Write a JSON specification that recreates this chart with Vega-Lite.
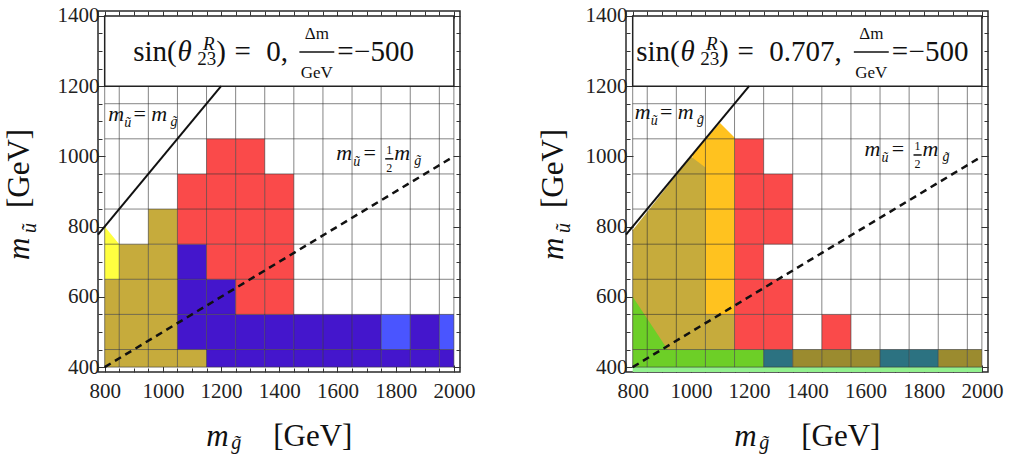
{
"$schema": "https://vega.github.io/schema/vega-lite/v6.json",
"background": "white",
"padding": {"left": 3, "top": 4, "right": 5, "bottom": 5},
"spacing": 60,
"config": {
 "font": "serif",
 "view": {"stroke": "#2a2a2a", "strokeWidth": 1.5},
 "axis": {"labelFont": "serif", "labelFontSize": 21, "labelColor": "#222", "tickColor": "#333", "tickWidth": 1, "domain": false, "grid": false},
 "text": {"font": "Liberation Serif", "color": "#111"}
},
"datasets": {
 "cells": [
  {"p":"L","x1":800,"x2":850,"y1":400,"y2":450,"c":"olive"},
  {"p":"L","x1":800,"x2":850,"y1":450,"y2":550,"c":"olive"},
  {"p":"L","x1":800,"x2":850,"y1":550,"y2":650,"c":"olive"},
  {"p":"L","x1":850,"x2":950,"y1":400,"y2":450,"c":"olive"},
  {"p":"L","x1":850,"x2":950,"y1":450,"y2":550,"c":"olive"},
  {"p":"L","x1":850,"x2":950,"y1":550,"y2":650,"c":"olive"},
  {"p":"L","x1":850,"x2":950,"y1":650,"y2":750,"c":"olive"},
  {"p":"L","x1":950,"x2":1050,"y1":400,"y2":450,"c":"olive"},
  {"p":"L","x1":950,"x2":1050,"y1":450,"y2":550,"c":"olive"},
  {"p":"L","x1":950,"x2":1050,"y1":550,"y2":650,"c":"olive"},
  {"p":"L","x1":950,"x2":1050,"y1":650,"y2":750,"c":"olive"},
  {"p":"L","x1":950,"x2":1050,"y1":750,"y2":850,"c":"olive"},
  {"p":"L","x1":1050,"x2":1150,"y1":400,"y2":450,"c":"olive"},
  {"p":"L","x1":1050,"x2":1150,"y1":450,"y2":550,"c":"blue"},
  {"p":"L","x1":1050,"x2":1150,"y1":550,"y2":650,"c":"blue"},
  {"p":"L","x1":1050,"x2":1150,"y1":650,"y2":750,"c":"blue"},
  {"p":"L","x1":1050,"x2":1150,"y1":750,"y2":850,"c":"red"},
  {"p":"L","x1":1050,"x2":1150,"y1":850,"y2":950,"c":"red"},
  {"p":"L","x1":1150,"x2":1250,"y1":400,"y2":450,"c":"blue"},
  {"p":"L","x1":1150,"x2":1250,"y1":450,"y2":550,"c":"blue"},
  {"p":"L","x1":1150,"x2":1250,"y1":550,"y2":650,"c":"blue"},
  {"p":"L","x1":1150,"x2":1250,"y1":650,"y2":750,"c":"red"},
  {"p":"L","x1":1150,"x2":1250,"y1":750,"y2":850,"c":"red"},
  {"p":"L","x1":1150,"x2":1250,"y1":850,"y2":950,"c":"red"},
  {"p":"L","x1":1150,"x2":1250,"y1":950,"y2":1050,"c":"red"},
  {"p":"L","x1":1250,"x2":1350,"y1":400,"y2":450,"c":"blue"},
  {"p":"L","x1":1250,"x2":1350,"y1":450,"y2":550,"c":"blue"},
  {"p":"L","x1":1250,"x2":1350,"y1":550,"y2":650,"c":"red"},
  {"p":"L","x1":1250,"x2":1350,"y1":650,"y2":750,"c":"red"},
  {"p":"L","x1":1250,"x2":1350,"y1":750,"y2":850,"c":"red"},
  {"p":"L","x1":1250,"x2":1350,"y1":850,"y2":950,"c":"red"},
  {"p":"L","x1":1250,"x2":1350,"y1":950,"y2":1050,"c":"red"},
  {"p":"L","x1":1350,"x2":1450,"y1":400,"y2":450,"c":"blue"},
  {"p":"L","x1":1350,"x2":1450,"y1":450,"y2":550,"c":"blue"},
  {"p":"L","x1":1350,"x2":1450,"y1":550,"y2":650,"c":"red"},
  {"p":"L","x1":1350,"x2":1450,"y1":650,"y2":750,"c":"red"},
  {"p":"L","x1":1350,"x2":1450,"y1":750,"y2":850,"c":"red"},
  {"p":"L","x1":1350,"x2":1450,"y1":850,"y2":950,"c":"red"},
  {"p":"L","x1":1450,"x2":1550,"y1":400,"y2":450,"c":"blue"},
  {"p":"L","x1":1450,"x2":1550,"y1":450,"y2":550,"c":"blue"},
  {"p":"L","x1":1550,"x2":1650,"y1":400,"y2":450,"c":"blue"},
  {"p":"L","x1":1550,"x2":1650,"y1":450,"y2":550,"c":"blue"},
  {"p":"L","x1":1650,"x2":1750,"y1":400,"y2":450,"c":"blue"},
  {"p":"L","x1":1650,"x2":1750,"y1":450,"y2":550,"c":"blue"},
  {"p":"L","x1":1750,"x2":1850,"y1":400,"y2":450,"c":"blue"},
  {"p":"L","x1":1750,"x2":1850,"y1":450,"y2":550,"c":"lightblue"},
  {"p":"L","x1":1850,"x2":1950,"y1":400,"y2":450,"c":"blue"},
  {"p":"L","x1":1850,"x2":1950,"y1":450,"y2":550,"c":"blue"},
  {"p":"L","x1":1950,"x2":2000,"y1":400,"y2":450,"c":"blue"},
  {"p":"L","x1":1950,"x2":2000,"y1":450,"y2":550,"c":"lightblue"},
  {"p":"R","x1":800,"x2":2000,"y1":386,"y2":400,"c":"lightgreen"},
  {"p":"R","x1":800,"x2":850,"y1":400,"y2":450,"c":"green"},
  {"p":"R","x1":850,"x2":950,"y1":400,"y2":450,"c":"green"},
  {"p":"R","x1":950,"x2":1050,"y1":400,"y2":450,"c":"green"},
  {"p":"R","x1":1050,"x2":1150,"y1":400,"y2":450,"c":"green"},
  {"p":"R","x1":1050,"x2":1150,"y1":450,"y2":550,"c":"olive"},
  {"p":"R","x1":1150,"x2":1250,"y1":400,"y2":450,"c":"green"},
  {"p":"R","x1":1150,"x2":1250,"y1":450,"y2":550,"c":"red"},
  {"p":"R","x1":1150,"x2":1250,"y1":550,"y2":650,"c":"red"},
  {"p":"R","x1":1150,"x2":1250,"y1":650,"y2":750,"c":"red"},
  {"p":"R","x1":1150,"x2":1250,"y1":750,"y2":850,"c":"red"},
  {"p":"R","x1":1150,"x2":1250,"y1":850,"y2":950,"c":"red"},
  {"p":"R","x1":1150,"x2":1250,"y1":950,"y2":1050,"c":"red"},
  {"p":"R","x1":1250,"x2":1350,"y1":400,"y2":450,"c":"teal"},
  {"p":"R","x1":1250,"x2":1350,"y1":450,"y2":550,"c":"red"},
  {"p":"R","x1":1250,"x2":1350,"y1":550,"y2":650,"c":"red"},
  {"p":"R","x1":1250,"x2":1350,"y1":750,"y2":850,"c":"red"},
  {"p":"R","x1":1250,"x2":1350,"y1":850,"y2":950,"c":"red"},
  {"p":"R","x1":1350,"x2":1450,"y1":400,"y2":450,"c":"darkolive"},
  {"p":"R","x1":1450,"x2":1550,"y1":400,"y2":450,"c":"darkolive"},
  {"p":"R","x1":1450,"x2":1550,"y1":450,"y2":550,"c":"red"},
  {"p":"R","x1":1550,"x2":1650,"y1":400,"y2":450,"c":"darkolive"},
  {"p":"R","x1":1650,"x2":1750,"y1":400,"y2":450,"c":"teal"},
  {"p":"R","x1":1750,"x2":1850,"y1":400,"y2":450,"c":"teal"},
  {"p":"R","x1":1850,"x2":1950,"y1":400,"y2":450,"c":"darkolive"},
  {"p":"R","x1":1950,"x2":2000,"y1":400,"y2":450,"c":"darkolive"}
 ],
 "areas": [
  {"p":"L","g":"Ly","c":"yellow","x":800,"lo":650,"hi":800},
  {"p":"L","g":"Ly","c":"yellow","x":850,"lo":650,"hi":750},
  {"p":"R","g":"Ro","c":"orange","x":1005,"lo":550,"hi":1005},
  {"p":"R","g":"Ro","c":"orange","x":1100,"lo":550,"hi":1095},
  {"p":"R","g":"Ro","c":"orange","x":1150,"lo":550,"hi":1054},
  {"p":"R","g":"Rol","c":"olive","x":800,"lo":450,"hi":790},
  {"p":"R","g":"Rol","c":"olive","x":1000,"lo":450,"hi":1000},
  {"p":"R","g":"Rol","c":"olive","x":1050,"lo":450,"hi":968},
  {"p":"R","g":"Rg","c":"green","x":800,"lo":450,"hi":600},
  {"p":"R","g":"Rg","c":"green","x":920,"lo":450,"hi":450}
 ],
 "grid": [
  {"o":"v","v":800,"lo":400,"hi":1200},{"o":"v","v":850,"lo":400,"hi":1200},{"o":"v","v":950,"lo":400,"hi":1200},
  {"o":"v","v":1050,"lo":400,"hi":1200},{"o":"v","v":1150,"lo":400,"hi":1200},{"o":"v","v":1250,"lo":400,"hi":1200},
  {"o":"v","v":1350,"lo":400,"hi":1200},{"o":"v","v":1450,"lo":400,"hi":1200},{"o":"v","v":1550,"lo":400,"hi":1200},
  {"o":"v","v":1650,"lo":400,"hi":1200},{"o":"v","v":1750,"lo":400,"hi":1200},{"o":"v","v":1850,"lo":400,"hi":1200},
  {"o":"v","v":1950,"lo":400,"hi":1200},{"o":"v","v":2000,"lo":400,"hi":1200},
  {"o":"h","v":400,"lo":800,"hi":2000},{"o":"h","v":450,"lo":800,"hi":2000},{"o":"h","v":550,"lo":800,"hi":2000},
  {"o":"h","v":650,"lo":800,"hi":2000},{"o":"h","v":750,"lo":800,"hi":2000},{"o":"h","v":850,"lo":800,"hi":2000},
  {"o":"h","v":950,"lo":800,"hi":2000},{"o":"h","v":1050,"lo":800,"hi":2000},{"o":"h","v":1150,"lo":800,"hi":2000}
 ],
 "box": [{"x1":800,"x2":2000,"y1":1200,"y2":1400}],
 "lines": [
  {"g":"eq","x":777,"y":777},{"g":"eq","x":1200,"y":1200},
  {"g":"half","x":800,"y":400},{"g":"half","x":2000,"y":1000}
 ],
 "bars": [
  {"p":"L","x1":1469,"x2":1589,"y":1297},
  {"p":"L","x1":1764,"x2":1792,"y":993},
  {"p":"R","x1":1560,"x2":1680,"y":1297},
  {"p":"R","x1":1765,"x2":1793,"y":1004}
 ],
 "txt": [
  {"p":"L","k":"main","t":"sin(","x":898,"y":1272},
  {"p":"L","k":"mainI","t":"θ","x":1050,"y":1272},
  {"p":"L","k":"sup","t":"R","x":1138,"y":1304},
  {"p":"L","k":"sub","t":"23","x":1118,"y":1259},
  {"p":"L","k":"main","t":")","x":1183,"y":1272},
  {"p":"L","k":"main","t":"=","x":1246,"y":1272},
  {"p":"L","k":"main","t":"0,","x":1355,"y":1272},
  {"p":"L","k":"fracC","t":"Δm","x":1529,"y":1334},
  {"p":"L","k":"fracC","t":"GeV","x":1529,"y":1223},
  {"p":"L","k":"main","t":"=","x":1599,"y":1272},
  {"p":"L","k":"main","t":"−500","x":1657,"y":1272},
  {"p":"L","k":"lab","t":"m","x":812,"y":1101},
  {"p":"L","k":"labS","t":"ũ","x":867,"y":1084},
  {"p":"L","k":"labN","t":"=","x":899,"y":1101},
  {"p":"L","k":"lab","t":"m","x":960,"y":1101},
  {"p":"L","k":"labS","t":"g̃","x":1026,"y":1086},
  {"p":"L","k":"lab","t":"m","x":1596,"y":990},
  {"p":"L","k":"labS","t":"ũ","x":1654,"y":973},
  {"p":"L","k":"labN","t":"=","x":1689,"y":990},
  {"p":"L","k":"frac2C","t":"1","x":1778,"y":1007},
  {"p":"L","k":"frac2C","t":"2","x":1778,"y":955},
  {"p":"L","k":"lab","t":"m","x":1795,"y":990},
  {"p":"L","k":"labS","t":"g̃","x":1864,"y":975},
  {"p":"L","k":"tit","t":"m","x":1149,"y":175},
  {"p":"L","k":"titS","t":"g̃","x":1235,"y":166},
  {"p":"L","k":"titN","t":"[GeV]","x":1379,"y":175},
  {"p":"L","k":"ytit","t":"m","x":541,"y":705},
  {"p":"L","k":"ytitS","t":"ũ","x":565,"y":782},
  {"p":"L","k":"ytitN","t":"[GeV]","x":541,"y":853},
  {"p":"R","k":"main","t":"sin(","x":812,"y":1272},
  {"p":"R","k":"mainI","t":"θ","x":964,"y":1272},
  {"p":"R","k":"sup","t":"R","x":1052,"y":1304},
  {"p":"R","k":"sub","t":"23","x":1032,"y":1259},
  {"p":"R","k":"main","t":")","x":1097,"y":1272},
  {"p":"R","k":"main","t":"=","x":1160,"y":1272},
  {"p":"R","k":"main","t":"0.707,","x":1269,"y":1272},
  {"p":"R","k":"fracC","t":"Δm","x":1620,"y":1334},
  {"p":"R","k":"fracC","t":"GeV","x":1620,"y":1223},
  {"p":"R","k":"main","t":"=","x":1690,"y":1272},
  {"p":"R","k":"main","t":"−500","x":1748,"y":1272},
  {"p":"R","k":"lab","t":"m","x":807,"y":1106},
  {"p":"R","k":"labS","t":"ũ","x":862,"y":1089},
  {"p":"R","k":"labN","t":"=","x":894,"y":1106},
  {"p":"R","k":"lab","t":"m","x":955,"y":1106},
  {"p":"R","k":"labS","t":"g̃","x":1021,"y":1091},
  {"p":"R","k":"lab","t":"m","x":1597,"y":1001},
  {"p":"R","k":"labS","t":"ũ","x":1655,"y":984},
  {"p":"R","k":"labN","t":"=","x":1690,"y":1001},
  {"p":"R","k":"frac2C","t":"1","x":1779,"y":1018},
  {"p":"R","k":"frac2C","t":"2","x":1779,"y":966},
  {"p":"R","k":"lab","t":"m","x":1796,"y":1001},
  {"p":"R","k":"labS","t":"g̃","x":1865,"y":986},
  {"p":"R","k":"tit","t":"m","x":1149,"y":175},
  {"p":"R","k":"titS","t":"g̃","x":1235,"y":166},
  {"p":"R","k":"titN","t":"[GeV]","x":1379,"y":175},
  {"p":"R","k":"ytit","t":"m","x":559,"y":705},
  {"p":"R","k":"ytitS","t":"ũ","x":583,"y":782},
  {"p":"R","k":"ytitN","t":"[GeV]","x":559,"y":853}
 ]
},
"hconcat": [
 {
  "width": 362, "height": 361,
  "resolve": {"axis": {"x": "independent", "y": "independent"}},
  "layer": [
   {"data": {"name": "cells"}, "transform": [{"filter": "datum.p === 'L'"}],
    "mark": {"type": "rect", "opacity": 1},
    "encoding": {
     "x": {"field": "x1", "type": "quantitative", "scale": {"domain": [777, 2021], "nice": false, "zero": false},
       "axis": {"orient": "bottom", "values": [800,850,900,950,1000,1050,1100,1150,1200,1250,1300,1350,1400,1450,1500,1550,1600,1650,1700,1750,1800,1850,1900,1950,2000], "format": "d", "labelExpr": "datum.value % 200 === 0 ? datum.label : ''", "labelFont": "serif", "labelFontSize": 21, "labelColor": "#222", "tickSize": {"condition": {"test": "datum.value % 200 === 0", "value": -7}, "value": -4}, "labelPadding": 15, "title": null}},
     "x2": {"field": "x2"},
     "y": {"field": "y1", "type": "quantitative", "scale": {"domain": [386, 1414], "nice": false, "zero": false},
       "axis": {"orient": "left", "values": [400,450,500,550,600,650,700,750,800,850,900,950,1000,1050,1100,1150,1200,1250,1300,1350,1400], "format": "d", "labelExpr": "datum.value % 200 === 0 ? datum.label : ''", "labelFont": "serif", "labelFontSize": 21, "labelColor": "#222", "tickSize": {"condition": {"test": "datum.value % 200 === 0", "value": -7}, "value": -4}, "labelPadding": 6, "title": null}},
     "y2": {"field": "y2"},
     "color": {"field": "c", "type": "nominal", "legend": null, "scale": {"domain": ["olive","yellow","red","blue","lightblue","green","lightgreen","orange","teal","darkolive"], "range": ["#C6AB3C","#FFFF40","#FA4A4A","#4416CC","#4A55FF","#6DCF27","#92F08E","#FFC21F","#2C7281","#9B8B2F"]}}
    }},
   {"data": {"name": "areas"}, "transform": [{"filter": "datum.p === 'L'"}],
    "mark": {"type": "area", "opacity": 1},
    "encoding": {
     "x": {"field": "x", "type": "quantitative", "scale": {"domain": [777, 2021], "nice": false, "zero": false}, "axis": null},
     "y": {"field": "lo", "type": "quantitative", "scale": {"domain": [386, 1414], "nice": false, "zero": false}, "axis": null},
     "y2": {"field": "hi"},
     "detail": {"field": "g"},
     "color": {"field": "c", "type": "nominal", "legend": null, "scale": {"domain": ["olive","yellow","red","blue","lightblue","green","lightgreen","orange","teal","darkolive"], "range": ["#C6AB3C","#FFFF40","#FA4A4A","#4416CC","#4A55FF","#6DCF27","#92F08E","#FFC21F","#2C7281","#9B8B2F"]}}
    }},
   {"data": {"name": "grid"}, "transform": [{"filter": "datum.o === 'v'"}],
    "mark": {"type": "rule", "color": "#333", "opacity": 0.6, "strokeWidth": 1},
    "encoding": {
     "x": {"field": "v", "type": "quantitative", "scale": {"domain": [777, 2021], "nice": false, "zero": false}, "axis": null},
     "y": {"field": "lo", "type": "quantitative", "scale": {"domain": [386, 1414], "nice": false, "zero": false}, "axis": null},
     "y2": {"field": "hi"}
    }},
   {"data": {"name": "grid"}, "transform": [{"filter": "datum.o === 'h'"}],
    "mark": {"type": "rule", "color": "#333", "opacity": 0.6, "strokeWidth": 1},
    "encoding": {
     "y": {"field": "v", "type": "quantitative", "scale": {"domain": [386, 1414], "nice": false, "zero": false}, "axis": null},
     "x": {"field": "lo", "type": "quantitative", "scale": {"domain": [777, 2021], "nice": false, "zero": false}, "axis": null},
     "x2": {"field": "hi"}
    }},
   {"data": {"name": "box"},
    "mark": {"type": "rect", "fill": "white", "stroke": "#222", "strokeWidth": 1.5},
    "encoding": {
     "x": {"field": "x1", "type": "quantitative", "scale": {"domain": [777, 2021], "nice": false, "zero": false}, "axis": null},
     "x2": {"field": "x2"},
     "y": {"field": "y1", "type": "quantitative", "scale": {"domain": [386, 1414], "nice": false, "zero": false}, "axis": null},
     "y2": {"field": "y2"}
    }},
   {"data": {"name": "lines"}, "transform": [{"filter": "datum.g === 'eq'"}],
    "mark": {"type": "line", "color": "#111", "strokeWidth": 2},
    "encoding": {
     "x": {"field": "x", "type": "quantitative", "scale": {"domain": [777, 2021], "nice": false, "zero": false},
       "axis": {"orient": "top", "values": [800,850,900,950,1000,1050,1100,1150,1200,1250,1300,1350,1400,1450,1500,1550,1600,1650,1700,1750,1800,1850,1900,1950,2000], "labels": false, "tickSize": {"condition": {"test": "datum.value % 200 === 0", "value": -7}, "value": -4}, "title": null}},
     "y": {"field": "y", "type": "quantitative", "scale": {"domain": [386, 1414], "nice": false, "zero": false},
       "axis": {"orient": "right", "values": [400,450,500,550,600,650,700,750,800,850,900,950,1000,1050,1100,1150,1200,1250,1300,1350,1400], "labels": false, "tickSize": {"condition": {"test": "datum.value % 200 === 0", "value": -7}, "value": -4}, "title": null}}
    }},
   {"data": {"name": "lines"}, "transform": [{"filter": "datum.g === 'half'"}],
    "mark": {"type": "line", "color": "#111", "strokeWidth": 2.5, "strokeDash": [7, 5]},
    "encoding": {
     "x": {"field": "x", "type": "quantitative", "scale": {"domain": [777, 2021], "nice": false, "zero": false}, "axis": null},
     "y": {"field": "y", "type": "quantitative", "scale": {"domain": [386, 1414], "nice": false, "zero": false}, "axis": null}
    }},
   {"data": {"name": "bars"}, "transform": [{"filter": "datum.p === 'L'"}],
    "mark": {"type": "rule", "color": "#111", "strokeWidth": 1.5},
    "encoding": {
     "x": {"field": "x1", "type": "quantitative", "scale": {"domain": [777, 2021], "nice": false, "zero": false}, "axis": null},
     "x2": {"field": "x2"},
     "y": {"field": "y", "type": "quantitative", "scale": {"domain": [386, 1414], "nice": false, "zero": false}, "axis": null}
    }},
   {"data": {"name": "txt"}, "transform": [{"filter": "datum.p === 'L' && datum.k === 'main'"}], "mark": {"type": "text", "fontSize": 29, "align": "left", "baseline": "alphabetic"}, "encoding": {"x": {"field": "x", "type": "quantitative", "scale": {"domain": [777, 2021], "nice": false, "zero": false}, "axis": null}, "y": {"field": "y", "type": "quantitative", "scale": {"domain": [386, 1414], "nice": false, "zero": false}, "axis": null}, "text": {"field": "t"}}},
   {"data": {"name": "txt"}, "transform": [{"filter": "datum.p === 'L' && datum.k === 'mainI'"}], "mark": {"type": "text", "fontSize": 29, "fontStyle": "italic", "align": "left", "baseline": "alphabetic"}, "encoding": {"x": {"field": "x", "type": "quantitative", "scale": {"domain": [777, 2021], "nice": false, "zero": false}, "axis": null}, "y": {"field": "y", "type": "quantitative", "scale": {"domain": [386, 1414], "nice": false, "zero": false}, "axis": null}, "text": {"field": "t"}}},
   {"data": {"name": "txt"}, "transform": [{"filter": "datum.p === 'L' && datum.k === 'sup'"}], "mark": {"type": "text", "fontSize": 19, "fontStyle": "italic", "align": "left", "baseline": "alphabetic"}, "encoding": {"x": {"field": "x", "type": "quantitative", "scale": {"domain": [777, 2021], "nice": false, "zero": false}, "axis": null}, "y": {"field": "y", "type": "quantitative", "scale": {"domain": [386, 1414], "nice": false, "zero": false}, "axis": null}, "text": {"field": "t"}}},
   {"data": {"name": "txt"}, "transform": [{"filter": "datum.p === 'L' && datum.k === 'sub'"}], "mark": {"type": "text", "fontSize": 19, "align": "left", "baseline": "alphabetic"}, "encoding": {"x": {"field": "x", "type": "quantitative", "scale": {"domain": [777, 2021], "nice": false, "zero": false}, "axis": null}, "y": {"field": "y", "type": "quantitative", "scale": {"domain": [386, 1414], "nice": false, "zero": false}, "axis": null}, "text": {"field": "t"}}},
   {"data": {"name": "txt"}, "transform": [{"filter": "datum.p === 'L' && datum.k === 'fracC'"}], "mark": {"type": "text", "fontSize": 17, "align": "center", "baseline": "alphabetic"}, "encoding": {"x": {"field": "x", "type": "quantitative", "scale": {"domain": [777, 2021], "nice": false, "zero": false}, "axis": null}, "y": {"field": "y", "type": "quantitative", "scale": {"domain": [386, 1414], "nice": false, "zero": false}, "axis": null}, "text": {"field": "t"}}},
   {"data": {"name": "txt"}, "transform": [{"filter": "datum.p === 'L' && datum.k === 'frac2C'"}], "mark": {"type": "text", "fontSize": 12, "align": "center", "baseline": "alphabetic"}, "encoding": {"x": {"field": "x", "type": "quantitative", "scale": {"domain": [777, 2021], "nice": false, "zero": false}, "axis": null}, "y": {"field": "y", "type": "quantitative", "scale": {"domain": [386, 1414], "nice": false, "zero": false}, "axis": null}, "text": {"field": "t"}}},
   {"data": {"name": "txt"}, "transform": [{"filter": "datum.p === 'L' && datum.k === 'lab'"}], "mark": {"type": "text", "fontSize": 22, "fontStyle": "italic", "align": "left", "baseline": "alphabetic"}, "encoding": {"x": {"field": "x", "type": "quantitative", "scale": {"domain": [777, 2021], "nice": false, "zero": false}, "axis": null}, "y": {"field": "y", "type": "quantitative", "scale": {"domain": [386, 1414], "nice": false, "zero": false}, "axis": null}, "text": {"field": "t"}}},
   {"data": {"name": "txt"}, "transform": [{"filter": "datum.p === 'L' && datum.k === 'labN'"}], "mark": {"type": "text", "fontSize": 22, "align": "left", "baseline": "alphabetic"}, "encoding": {"x": {"field": "x", "type": "quantitative", "scale": {"domain": [777, 2021], "nice": false, "zero": false}, "axis": null}, "y": {"field": "y", "type": "quantitative", "scale": {"domain": [386, 1414], "nice": false, "zero": false}, "axis": null}, "text": {"field": "t"}}},
   {"data": {"name": "txt"}, "transform": [{"filter": "datum.p === 'L' && datum.k === 'labS'"}], "mark": {"type": "text", "fontSize": 14, "fontStyle": "italic", "align": "left", "baseline": "alphabetic"}, "encoding": {"x": {"field": "x", "type": "quantitative", "scale": {"domain": [777, 2021], "nice": false, "zero": false}, "axis": null}, "y": {"field": "y", "type": "quantitative", "scale": {"domain": [386, 1414], "nice": false, "zero": false}, "axis": null}, "text": {"field": "t"}}},
   {"data": {"name": "txt"}, "transform": [{"filter": "datum.p === 'L' && datum.k === 'tit'"}], "mark": {"type": "text", "fontSize": 31, "fontStyle": "italic", "align": "left", "baseline": "alphabetic"}, "encoding": {"x": {"field": "x", "type": "quantitative", "scale": {"domain": [777, 2021], "nice": false, "zero": false}, "axis": null}, "y": {"field": "y", "type": "quantitative", "scale": {"domain": [386, 1414], "nice": false, "zero": false}, "axis": null}, "text": {"field": "t"}}},
   {"data": {"name": "txt"}, "transform": [{"filter": "datum.p === 'L' && datum.k === 'titN'"}], "mark": {"type": "text", "fontSize": 31, "align": "left", "baseline": "alphabetic"}, "encoding": {"x": {"field": "x", "type": "quantitative", "scale": {"domain": [777, 2021], "nice": false, "zero": false}, "axis": null}, "y": {"field": "y", "type": "quantitative", "scale": {"domain": [386, 1414], "nice": false, "zero": false}, "axis": null}, "text": {"field": "t"}}},
   {"data": {"name": "txt"}, "transform": [{"filter": "datum.p === 'L' && datum.k === 'titS'"}], "mark": {"type": "text", "fontSize": 20, "fontStyle": "italic", "align": "left", "baseline": "alphabetic"}, "encoding": {"x": {"field": "x", "type": "quantitative", "scale": {"domain": [777, 2021], "nice": false, "zero": false}, "axis": null}, "y": {"field": "y", "type": "quantitative", "scale": {"domain": [386, 1414], "nice": false, "zero": false}, "axis": null}, "text": {"field": "t"}}},
   {"data": {"name": "txt"}, "transform": [{"filter": "datum.p === 'L' && datum.k === 'ytit'"}], "mark": {"type": "text", "fontSize": 31, "fontStyle": "italic", "align": "left", "baseline": "alphabetic", "angle": 270}, "encoding": {"x": {"field": "x", "type": "quantitative", "scale": {"domain": [777, 2021], "nice": false, "zero": false}, "axis": null}, "y": {"field": "y", "type": "quantitative", "scale": {"domain": [386, 1414], "nice": false, "zero": false}, "axis": null}, "text": {"field": "t"}}},
   {"data": {"name": "txt"}, "transform": [{"filter": "datum.p === 'L' && datum.k === 'ytitN'"}], "mark": {"type": "text", "fontSize": 31, "align": "left", "baseline": "alphabetic", "angle": 270}, "encoding": {"x": {"field": "x", "type": "quantitative", "scale": {"domain": [777, 2021], "nice": false, "zero": false}, "axis": null}, "y": {"field": "y", "type": "quantitative", "scale": {"domain": [386, 1414], "nice": false, "zero": false}, "axis": null}, "text": {"field": "t"}}},
   {"data": {"name": "txt"}, "transform": [{"filter": "datum.p === 'L' && datum.k === 'ytitS'"}], "mark": {"type": "text", "fontSize": 20, "fontStyle": "italic", "align": "left", "baseline": "alphabetic", "angle": 270}, "encoding": {"x": {"field": "x", "type": "quantitative", "scale": {"domain": [777, 2021], "nice": false, "zero": false}, "axis": null}, "y": {"field": "y", "type": "quantitative", "scale": {"domain": [386, 1414], "nice": false, "zero": false}, "axis": null}, "text": {"field": "t"}}}
  ]
 },
 {
  "width": 362, "height": 361,
  "resolve": {"axis": {"x": "independent", "y": "independent"}},
  "layer": [
   {"data": {"name": "cells"}, "transform": [{"filter": "datum.p === 'R'"}],
    "mark": {"type": "rect", "opacity": 1},
    "encoding": {
     "x": {"field": "x1", "type": "quantitative", "scale": {"domain": [777, 2021], "nice": false, "zero": false},
       "axis": {"orient": "bottom", "values": [800,850,900,950,1000,1050,1100,1150,1200,1250,1300,1350,1400,1450,1500,1550,1600,1650,1700,1750,1800,1850,1900,1950,2000], "format": "d", "labelExpr": "datum.value % 200 === 0 ? datum.label : ''", "labelFont": "serif", "labelFontSize": 21, "labelColor": "#222", "tickSize": {"condition": {"test": "datum.value % 200 === 0", "value": -7}, "value": -4}, "labelPadding": 15, "title": null}},
     "x2": {"field": "x2"},
     "y": {"field": "y1", "type": "quantitative", "scale": {"domain": [386, 1414], "nice": false, "zero": false},
       "axis": {"orient": "left", "values": [400,450,500,550,600,650,700,750,800,850,900,950,1000,1050,1100,1150,1200,1250,1300,1350,1400], "format": "d", "labelExpr": "datum.value % 200 === 0 ? datum.label : ''", "labelFont": "serif", "labelFontSize": 21, "labelColor": "#222", "tickSize": {"condition": {"test": "datum.value % 200 === 0", "value": -7}, "value": -4}, "labelPadding": 6, "title": null}},
     "y2": {"field": "y2"},
     "color": {"field": "c", "type": "nominal", "legend": null, "scale": {"domain": ["olive","yellow","red","blue","lightblue","green","lightgreen","orange","teal","darkolive"], "range": ["#C6AB3C","#FFFF40","#FA4A4A","#4416CC","#4A55FF","#6DCF27","#92F08E","#FFC21F","#2C7281","#9B8B2F"]}}
    }},
   {"data": {"name": "areas"}, "transform": [{"filter": "datum.p === 'R' && datum.c === 'orange'"}],
    "mark": {"type": "area", "opacity": 1},
    "encoding": {
     "x": {"field": "x", "type": "quantitative", "scale": {"domain": [777, 2021], "nice": false, "zero": false}, "axis": null},
     "y": {"field": "lo", "type": "quantitative", "scale": {"domain": [386, 1414], "nice": false, "zero": false}, "axis": null},
     "y2": {"field": "hi"},
     "detail": {"field": "g"},
     "color": {"field": "c", "type": "nominal", "legend": null, "scale": {"domain": ["olive","yellow","red","blue","lightblue","green","lightgreen","orange","teal","darkolive"], "range": ["#C6AB3C","#FFFF40","#FA4A4A","#4416CC","#4A55FF","#6DCF27","#92F08E","#FFC21F","#2C7281","#9B8B2F"]}}
    }},
   {"data": {"name": "areas"}, "transform": [{"filter": "datum.p === 'R' && datum.c === 'olive'"}],
    "mark": {"type": "area", "opacity": 1},
    "encoding": {
     "x": {"field": "x", "type": "quantitative", "scale": {"domain": [777, 2021], "nice": false, "zero": false}, "axis": null},
     "y": {"field": "lo", "type": "quantitative", "scale": {"domain": [386, 1414], "nice": false, "zero": false}, "axis": null},
     "y2": {"field": "hi"},
     "detail": {"field": "g"},
     "color": {"field": "c", "type": "nominal", "legend": null, "scale": {"domain": ["olive","yellow","red","blue","lightblue","green","lightgreen","orange","teal","darkolive"], "range": ["#C6AB3C","#FFFF40","#FA4A4A","#4416CC","#4A55FF","#6DCF27","#92F08E","#FFC21F","#2C7281","#9B8B2F"]}}
    }},
   {"data": {"name": "areas"}, "transform": [{"filter": "datum.p === 'R' && datum.c === 'green'"}],
    "mark": {"type": "area", "opacity": 1},
    "encoding": {
     "x": {"field": "x", "type": "quantitative", "scale": {"domain": [777, 2021], "nice": false, "zero": false}, "axis": null},
     "y": {"field": "lo", "type": "quantitative", "scale": {"domain": [386, 1414], "nice": false, "zero": false}, "axis": null},
     "y2": {"field": "hi"},
     "detail": {"field": "g"},
     "color": {"field": "c", "type": "nominal", "legend": null, "scale": {"domain": ["olive","yellow","red","blue","lightblue","green","lightgreen","orange","teal","darkolive"], "range": ["#C6AB3C","#FFFF40","#FA4A4A","#4416CC","#4A55FF","#6DCF27","#92F08E","#FFC21F","#2C7281","#9B8B2F"]}}
    }},
   {"data": {"name": "grid"}, "transform": [{"filter": "datum.o === 'v'"}],
    "mark": {"type": "rule", "color": "#333", "opacity": 0.6, "strokeWidth": 1},
    "encoding": {
     "x": {"field": "v", "type": "quantitative", "scale": {"domain": [777, 2021], "nice": false, "zero": false}, "axis": null},
     "y": {"field": "lo", "type": "quantitative", "scale": {"domain": [386, 1414], "nice": false, "zero": false}, "axis": null},
     "y2": {"field": "hi"}
    }},
   {"data": {"name": "grid"}, "transform": [{"filter": "datum.o === 'h'"}],
    "mark": {"type": "rule", "color": "#333", "opacity": 0.6, "strokeWidth": 1},
    "encoding": {
     "y": {"field": "v", "type": "quantitative", "scale": {"domain": [386, 1414], "nice": false, "zero": false}, "axis": null},
     "x": {"field": "lo", "type": "quantitative", "scale": {"domain": [777, 2021], "nice": false, "zero": false}, "axis": null},
     "x2": {"field": "hi"}
    }},
   {"data": {"name": "box"},
    "mark": {"type": "rect", "fill": "white", "stroke": "#222", "strokeWidth": 1.5},
    "encoding": {
     "x": {"field": "x1", "type": "quantitative", "scale": {"domain": [777, 2021], "nice": false, "zero": false}, "axis": null},
     "x2": {"field": "x2"},
     "y": {"field": "y1", "type": "quantitative", "scale": {"domain": [386, 1414], "nice": false, "zero": false}, "axis": null},
     "y2": {"field": "y2"}
    }},
   {"data": {"name": "lines"}, "transform": [{"filter": "datum.g === 'eq'"}],
    "mark": {"type": "line", "color": "#111", "strokeWidth": 2},
    "encoding": {
     "x": {"field": "x", "type": "quantitative", "scale": {"domain": [777, 2021], "nice": false, "zero": false},
       "axis": {"orient": "top", "values": [800,850,900,950,1000,1050,1100,1150,1200,1250,1300,1350,1400,1450,1500,1550,1600,1650,1700,1750,1800,1850,1900,1950,2000], "labels": false, "tickSize": {"condition": {"test": "datum.value % 200 === 0", "value": -7}, "value": -4}, "title": null}},
     "y": {"field": "y", "type": "quantitative", "scale": {"domain": [386, 1414], "nice": false, "zero": false},
       "axis": {"orient": "right", "values": [400,450,500,550,600,650,700,750,800,850,900,950,1000,1050,1100,1150,1200,1250,1300,1350,1400], "labels": false, "tickSize": {"condition": {"test": "datum.value % 200 === 0", "value": -7}, "value": -4}, "title": null}}
    }},
   {"data": {"name": "lines"}, "transform": [{"filter": "datum.g === 'half'"}],
    "mark": {"type": "line", "color": "#111", "strokeWidth": 2.5, "strokeDash": [7, 5]},
    "encoding": {
     "x": {"field": "x", "type": "quantitative", "scale": {"domain": [777, 2021], "nice": false, "zero": false}, "axis": null},
     "y": {"field": "y", "type": "quantitative", "scale": {"domain": [386, 1414], "nice": false, "zero": false}, "axis": null}
    }},
   {"data": {"name": "bars"}, "transform": [{"filter": "datum.p === 'R'"}],
    "mark": {"type": "rule", "color": "#111", "strokeWidth": 1.5},
    "encoding": {
     "x": {"field": "x1", "type": "quantitative", "scale": {"domain": [777, 2021], "nice": false, "zero": false}, "axis": null},
     "x2": {"field": "x2"},
     "y": {"field": "y", "type": "quantitative", "scale": {"domain": [386, 1414], "nice": false, "zero": false}, "axis": null}
    }},
   {"data": {"name": "txt"}, "transform": [{"filter": "datum.p === 'R' && datum.k === 'main'"}], "mark": {"type": "text", "fontSize": 29, "align": "left", "baseline": "alphabetic"}, "encoding": {"x": {"field": "x", "type": "quantitative", "scale": {"domain": [777, 2021], "nice": false, "zero": false}, "axis": null}, "y": {"field": "y", "type": "quantitative", "scale": {"domain": [386, 1414], "nice": false, "zero": false}, "axis": null}, "text": {"field": "t"}}},
   {"data": {"name": "txt"}, "transform": [{"filter": "datum.p === 'R' && datum.k === 'mainI'"}], "mark": {"type": "text", "fontSize": 29, "fontStyle": "italic", "align": "left", "baseline": "alphabetic"}, "encoding": {"x": {"field": "x", "type": "quantitative", "scale": {"domain": [777, 2021], "nice": false, "zero": false}, "axis": null}, "y": {"field": "y", "type": "quantitative", "scale": {"domain": [386, 1414], "nice": false, "zero": false}, "axis": null}, "text": {"field": "t"}}},
   {"data": {"name": "txt"}, "transform": [{"filter": "datum.p === 'R' && datum.k === 'sup'"}], "mark": {"type": "text", "fontSize": 19, "fontStyle": "italic", "align": "left", "baseline": "alphabetic"}, "encoding": {"x": {"field": "x", "type": "quantitative", "scale": {"domain": [777, 2021], "nice": false, "zero": false}, "axis": null}, "y": {"field": "y", "type": "quantitative", "scale": {"domain": [386, 1414], "nice": false, "zero": false}, "axis": null}, "text": {"field": "t"}}},
   {"data": {"name": "txt"}, "transform": [{"filter": "datum.p === 'R' && datum.k === 'sub'"}], "mark": {"type": "text", "fontSize": 19, "align": "left", "baseline": "alphabetic"}, "encoding": {"x": {"field": "x", "type": "quantitative", "scale": {"domain": [777, 2021], "nice": false, "zero": false}, "axis": null}, "y": {"field": "y", "type": "quantitative", "scale": {"domain": [386, 1414], "nice": false, "zero": false}, "axis": null}, "text": {"field": "t"}}},
   {"data": {"name": "txt"}, "transform": [{"filter": "datum.p === 'R' && datum.k === 'fracC'"}], "mark": {"type": "text", "fontSize": 17, "align": "center", "baseline": "alphabetic"}, "encoding": {"x": {"field": "x", "type": "quantitative", "scale": {"domain": [777, 2021], "nice": false, "zero": false}, "axis": null}, "y": {"field": "y", "type": "quantitative", "scale": {"domain": [386, 1414], "nice": false, "zero": false}, "axis": null}, "text": {"field": "t"}}},
   {"data": {"name": "txt"}, "transform": [{"filter": "datum.p === 'R' && datum.k === 'frac2C'"}], "mark": {"type": "text", "fontSize": 12, "align": "center", "baseline": "alphabetic"}, "encoding": {"x": {"field": "x", "type": "quantitative", "scale": {"domain": [777, 2021], "nice": false, "zero": false}, "axis": null}, "y": {"field": "y", "type": "quantitative", "scale": {"domain": [386, 1414], "nice": false, "zero": false}, "axis": null}, "text": {"field": "t"}}},
   {"data": {"name": "txt"}, "transform": [{"filter": "datum.p === 'R' && datum.k === 'lab'"}], "mark": {"type": "text", "fontSize": 22, "fontStyle": "italic", "align": "left", "baseline": "alphabetic"}, "encoding": {"x": {"field": "x", "type": "quantitative", "scale": {"domain": [777, 2021], "nice": false, "zero": false}, "axis": null}, "y": {"field": "y", "type": "quantitative", "scale": {"domain": [386, 1414], "nice": false, "zero": false}, "axis": null}, "text": {"field": "t"}}},
   {"data": {"name": "txt"}, "transform": [{"filter": "datum.p === 'R' && datum.k === 'labN'"}], "mark": {"type": "text", "fontSize": 22, "align": "left", "baseline": "alphabetic"}, "encoding": {"x": {"field": "x", "type": "quantitative", "scale": {"domain": [777, 2021], "nice": false, "zero": false}, "axis": null}, "y": {"field": "y", "type": "quantitative", "scale": {"domain": [386, 1414], "nice": false, "zero": false}, "axis": null}, "text": {"field": "t"}}},
   {"data": {"name": "txt"}, "transform": [{"filter": "datum.p === 'R' && datum.k === 'labS'"}], "mark": {"type": "text", "fontSize": 14, "fontStyle": "italic", "align": "left", "baseline": "alphabetic"}, "encoding": {"x": {"field": "x", "type": "quantitative", "scale": {"domain": [777, 2021], "nice": false, "zero": false}, "axis": null}, "y": {"field": "y", "type": "quantitative", "scale": {"domain": [386, 1414], "nice": false, "zero": false}, "axis": null}, "text": {"field": "t"}}},
   {"data": {"name": "txt"}, "transform": [{"filter": "datum.p === 'R' && datum.k === 'tit'"}], "mark": {"type": "text", "fontSize": 31, "fontStyle": "italic", "align": "left", "baseline": "alphabetic"}, "encoding": {"x": {"field": "x", "type": "quantitative", "scale": {"domain": [777, 2021], "nice": false, "zero": false}, "axis": null}, "y": {"field": "y", "type": "quantitative", "scale": {"domain": [386, 1414], "nice": false, "zero": false}, "axis": null}, "text": {"field": "t"}}},
   {"data": {"name": "txt"}, "transform": [{"filter": "datum.p === 'R' && datum.k === 'titN'"}], "mark": {"type": "text", "fontSize": 31, "align": "left", "baseline": "alphabetic"}, "encoding": {"x": {"field": "x", "type": "quantitative", "scale": {"domain": [777, 2021], "nice": false, "zero": false}, "axis": null}, "y": {"field": "y", "type": "quantitative", "scale": {"domain": [386, 1414], "nice": false, "zero": false}, "axis": null}, "text": {"field": "t"}}},
   {"data": {"name": "txt"}, "transform": [{"filter": "datum.p === 'R' && datum.k === 'titS'"}], "mark": {"type": "text", "fontSize": 20, "fontStyle": "italic", "align": "left", "baseline": "alphabetic"}, "encoding": {"x": {"field": "x", "type": "quantitative", "scale": {"domain": [777, 2021], "nice": false, "zero": false}, "axis": null}, "y": {"field": "y", "type": "quantitative", "scale": {"domain": [386, 1414], "nice": false, "zero": false}, "axis": null}, "text": {"field": "t"}}},
   {"data": {"name": "txt"}, "transform": [{"filter": "datum.p === 'R' && datum.k === 'ytit'"}], "mark": {"type": "text", "fontSize": 31, "fontStyle": "italic", "align": "left", "baseline": "alphabetic", "angle": 270}, "encoding": {"x": {"field": "x", "type": "quantitative", "scale": {"domain": [777, 2021], "nice": false, "zero": false}, "axis": null}, "y": {"field": "y", "type": "quantitative", "scale": {"domain": [386, 1414], "nice": false, "zero": false}, "axis": null}, "text": {"field": "t"}}},
   {"data": {"name": "txt"}, "transform": [{"filter": "datum.p === 'R' && datum.k === 'ytitN'"}], "mark": {"type": "text", "fontSize": 31, "align": "left", "baseline": "alphabetic", "angle": 270}, "encoding": {"x": {"field": "x", "type": "quantitative", "scale": {"domain": [777, 2021], "nice": false, "zero": false}, "axis": null}, "y": {"field": "y", "type": "quantitative", "scale": {"domain": [386, 1414], "nice": false, "zero": false}, "axis": null}, "text": {"field": "t"}}},
   {"data": {"name": "txt"}, "transform": [{"filter": "datum.p === 'R' && datum.k === 'ytitS'"}], "mark": {"type": "text", "fontSize": 20, "fontStyle": "italic", "align": "left", "baseline": "alphabetic", "angle": 270}, "encoding": {"x": {"field": "x", "type": "quantitative", "scale": {"domain": [777, 2021], "nice": false, "zero": false}, "axis": null}, "y": {"field": "y", "type": "quantitative", "scale": {"domain": [386, 1414], "nice": false, "zero": false}, "axis": null}, "text": {"field": "t"}}}
  ]
 }
]
}
